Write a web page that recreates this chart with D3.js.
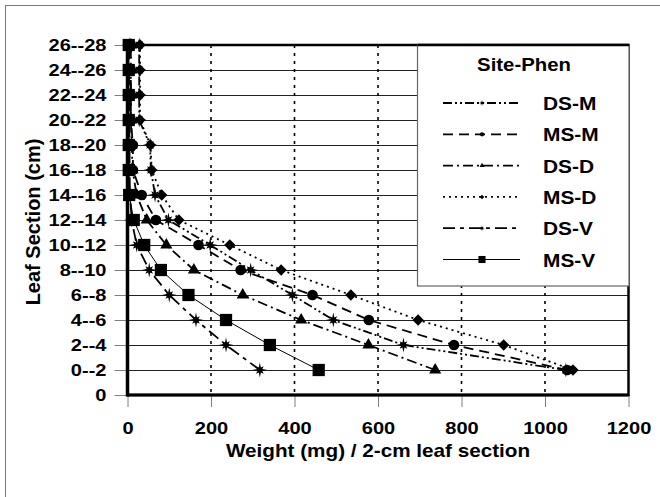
<!DOCTYPE html>
<html>
<head>
<meta charset="utf-8">
<script src="https://cdn.jsdelivr.net/npm/d3@7"></script>
<style>
body { margin: 0; background: #fff; }
svg text { font-family: Arial, "Liberation Sans", sans-serif; font-weight: bold; fill: #000; }
</style>
</head>
<body>
<div id="chart"></div>
<script>
// leaf sections, bottom (0) to top
var yLabels = ["0", "0--2", "2--4", "4--6", "6--8", "8--10", "10--12", "12--14",
	"14--16", "16--18", "18--20", "20--22", "22--24", "24--26", "26--28"];
var xTicks = [0, 200, 400, 600, 800, 1000, 1200];
var seriesNames = ["DS-M", "MS-M", "DS-D", "MS-D", "DS-V", "MS-V"];

// weight (mg) per section, from 0--2 up to 26--28
var dsM = [1050, 661, 493, 395, 295, 198, 98, 66, 56, 54, 28, 28, 28, 28];
var msM = [1053, 782, 578, 443, 271, 170, 68, 34, 13, 13, 8, 8, 8, 8];
var dsD = [737, 577, 416, 276, 159, 93, 46, 22, 12, 10, 8, 8, 8, 8];
var msD = [1067, 901, 696, 535, 368, 245, 123, 82, 58, 55, 30, 30, 30, 30];
var dsV = [317, 236, 164, 100, 52, 22, 10, 6, 5, 5, 4, 4, 4, 4];
var msV = [458, 341, 236, 146, 80, 40, 15, 4, 3, 3, 3, 3, 3, 3];
var seriesValues = [dsM, msM, dsD, msD, dsV, msV];

var seriesDash = ["9,3,2,3,2,3", "10,6", "10,4,2,4", "2,4", "12,5,4,5", null];
var seriesMarker = ["star", "circle", "triangle", "diamond", "star", "square"];

var W = 660, H = 497;
var svg = d3.select("#chart").append("svg")
	.attr("width", W)
	.attr("height", H);

var x = d3.scaleLinear().domain([0, 1200]).range([127.5, 628.5]);
var y = d3.scaleLinear().domain([0, 14]).range([395, 45]);

// outer frame
svg.append("rect")
	.attr("x", 5.5).attr("y", 5.5)
	.attr("width", 700).attr("height", 600)
	.attr("fill", "none")
	.attr("stroke", "#777")
	.attr("stroke-width", 1);

// horizontal grid
svg.append("g")
	.selectAll("line")
	.data(d3.range(1, 15))
	.enter()
	.append("line")
	.attr("x1", x(0)).attr("x2", x(1200))
	.attr("y1", d => y(d) + 0.5).attr("y2", d => y(d) + 0.5)
	.style("stroke", "#222")
	.style("stroke-width", 1);

// vertical dotted grid
svg.append("g")
	.selectAll("line")
	.data(xTicks.slice(1, -1))
	.enter()
	.append("line")
	.attr("x1", d => x(d)).attr("x2", d => x(d))
	.attr("y1", y(14)).attr("y2", y(0))
	.style("stroke", "#000")
	.style("stroke-width", 1.6)
	.attr("stroke-dasharray", "3,5");

var sx = 1.18;

// y axis
var gy = svg.append("g")
	.attr("transform", "translate(" + x(0) + ",0)")
	.call(d3.axisLeft(y).tickValues(d3.range(15)).tickFormat(i => yLabels[i]).tickSize(13).tickPadding(8));
gy.select(".domain").remove();
gy.selectAll(".tick line").attr("stroke", "#808080");
gy.selectAll(".tick text")
	.attr("x", -21 / sx)
	.attr("transform", "scale(" + sx + ",1)")
	.style("font-size", "17px");

// x axis
var gx = svg.append("g")
	.attr("transform", "translate(0," + y(0) + ")")
	.call(d3.axisBottom(x).tickValues(xTicks).tickFormat(d3.format("d")).tickSize(12).tickPadding(15));
gx.select(".domain").remove();
gx.selectAll(".tick line").attr("stroke", "#808080");
gx.selectAll(".tick text")
	.attr("transform", "scale(" + sx + ",1)")
	.style("font-size", "17px");

function starPath(r) {
	var pts = [];
	for (var i = 0; i < 16; i++) {
		var a = i * Math.PI / 8 - Math.PI / 2;
		var rr = (i % 4 == 0) ? r : (i % 2 == 0 ? r * 0.72 : r * 0.36);
		pts.push([rr * Math.cos(a), rr * Math.sin(a)]);
	}
	return "M" + pts.join("L") + "Z";
}

function markerPath(kind, big) {
	var k = big ? 1 : 0.4;
	if (kind == "star") return starPath(7.5 * k);
	if (kind == "circle") return d3.symbol(d3.symbolCircle, 90 * k * k)();
	if (kind == "triangle") return d3.symbol(d3.symbolTriangle, 64 * k * k)();
	if (kind == "diamond") return d3.symbol(d3.symbolSquare, 64 * k * k)();
	return d3.symbol(d3.symbolSquare, big ? 150 : 50)();
}

var line = d3.line()
	.x(d => x(d))
	.y((d, i) => y(i + 1));

seriesValues.forEach(function(vals, s) {
	svg.append("path")
		.datum(vals)
		.attr("d", line)
		.attr("fill", "none")
		.attr("stroke", "#000")
		.attr("stroke-width", seriesDash[s] ? 1.8 : 1)
		.attr("stroke-dasharray", seriesDash[s]);

	svg.append("g")
		.selectAll("path")
		.data(vals)
		.enter()
		.append("path")
		.attr("d", markerPath(seriesMarker[s], true))
		.attr("transform", function(d, i) {
			var t = "translate(" + x(d) + "," + y(i + 1) + ")";
			return seriesMarker[s] == "diamond" ? t + " rotate(45)" : t;
		})
		.attr("fill", "#000");
});

// plot border
svg.append("rect")
	.attr("x", x(0)).attr("y", y(14))
	.attr("width", x(1200) - x(0)).attr("height", y(0) - y(14))
	.attr("fill", "none")
	.attr("stroke", "#000")
	.attr("stroke-width", 2.5);
svg.append("line")
	.attr("x1", x(0)).attr("x2", x(0))
	.attr("y1", y(14)).attr("y2", y(0) + 1.5)
	.style("stroke", "#000").style("stroke-width", 3.5);
svg.append("line")
	.attr("x1", x(0)).attr("x2", x(1200))
	.attr("y1", y(0)).attr("y2", y(0))
	.style("stroke", "#000").style("stroke-width", 3);

// axis titles
svg.append("text")
	.attr("transform", "translate(" + ((x(0) + x(1200)) / 2) + ",457) scale(1.15,1)")
	.attr("text-anchor", "middle")
	.style("font-size", "18px")
	.text("Weight (mg) / 2-cm leaf section");

svg.append("text")
	.attr("transform", "translate(40,222) rotate(-90)")
	.attr("text-anchor", "middle")
	.style("font-size", "20px")
	.text("Leaf Section (cm)");

// legend
var lg = svg.append("g");
lg.append("rect")
	.attr("x", 417.5).attr("y", 45)
	.attr("width", 211.5).attr("height", 241)
	.attr("fill", "#fff")
	.attr("stroke", "#666")
	.attr("stroke-width", 1.2);
lg.append("line")
	.attr("x1", 417.5).attr("x2", 629)
	.attr("y1", 45).attr("y2", 45)
	.style("stroke", "#000").style("stroke-width", 2.5);

lg.append("text")
	.attr("transform", "translate(524,71) scale(1.1,1)")
	.attr("text-anchor", "middle")
	.style("font-size", "18.5px")
	.text("Site-Phen");

seriesNames.forEach(function(name, s) {
	var by = 110 + s * 31.3;
	lg.append("line")
		.attr("x1", 443).attr("x2", 520)
		.attr("y1", by - 7).attr("y2", by - 7)
		.attr("stroke", "#000")
		.attr("stroke-width", seriesDash[s] ? 1.8 : 1)
		.attr("stroke-dasharray", seriesDash[s]);
	lg.append("path")
		.attr("d", markerPath(seriesMarker[s], false))
		.attr("transform", "translate(482," + (by - 7) + ")" + (seriesMarker[s] == "diamond" ? " rotate(45)" : ""))
		.attr("fill", "#000");
	lg.append("text")
		.attr("transform", "translate(543," + by + ") scale(1.16,1)")
		.style("font-size", "18px")
		.text(name);
});
</script>
</body>
</html>
